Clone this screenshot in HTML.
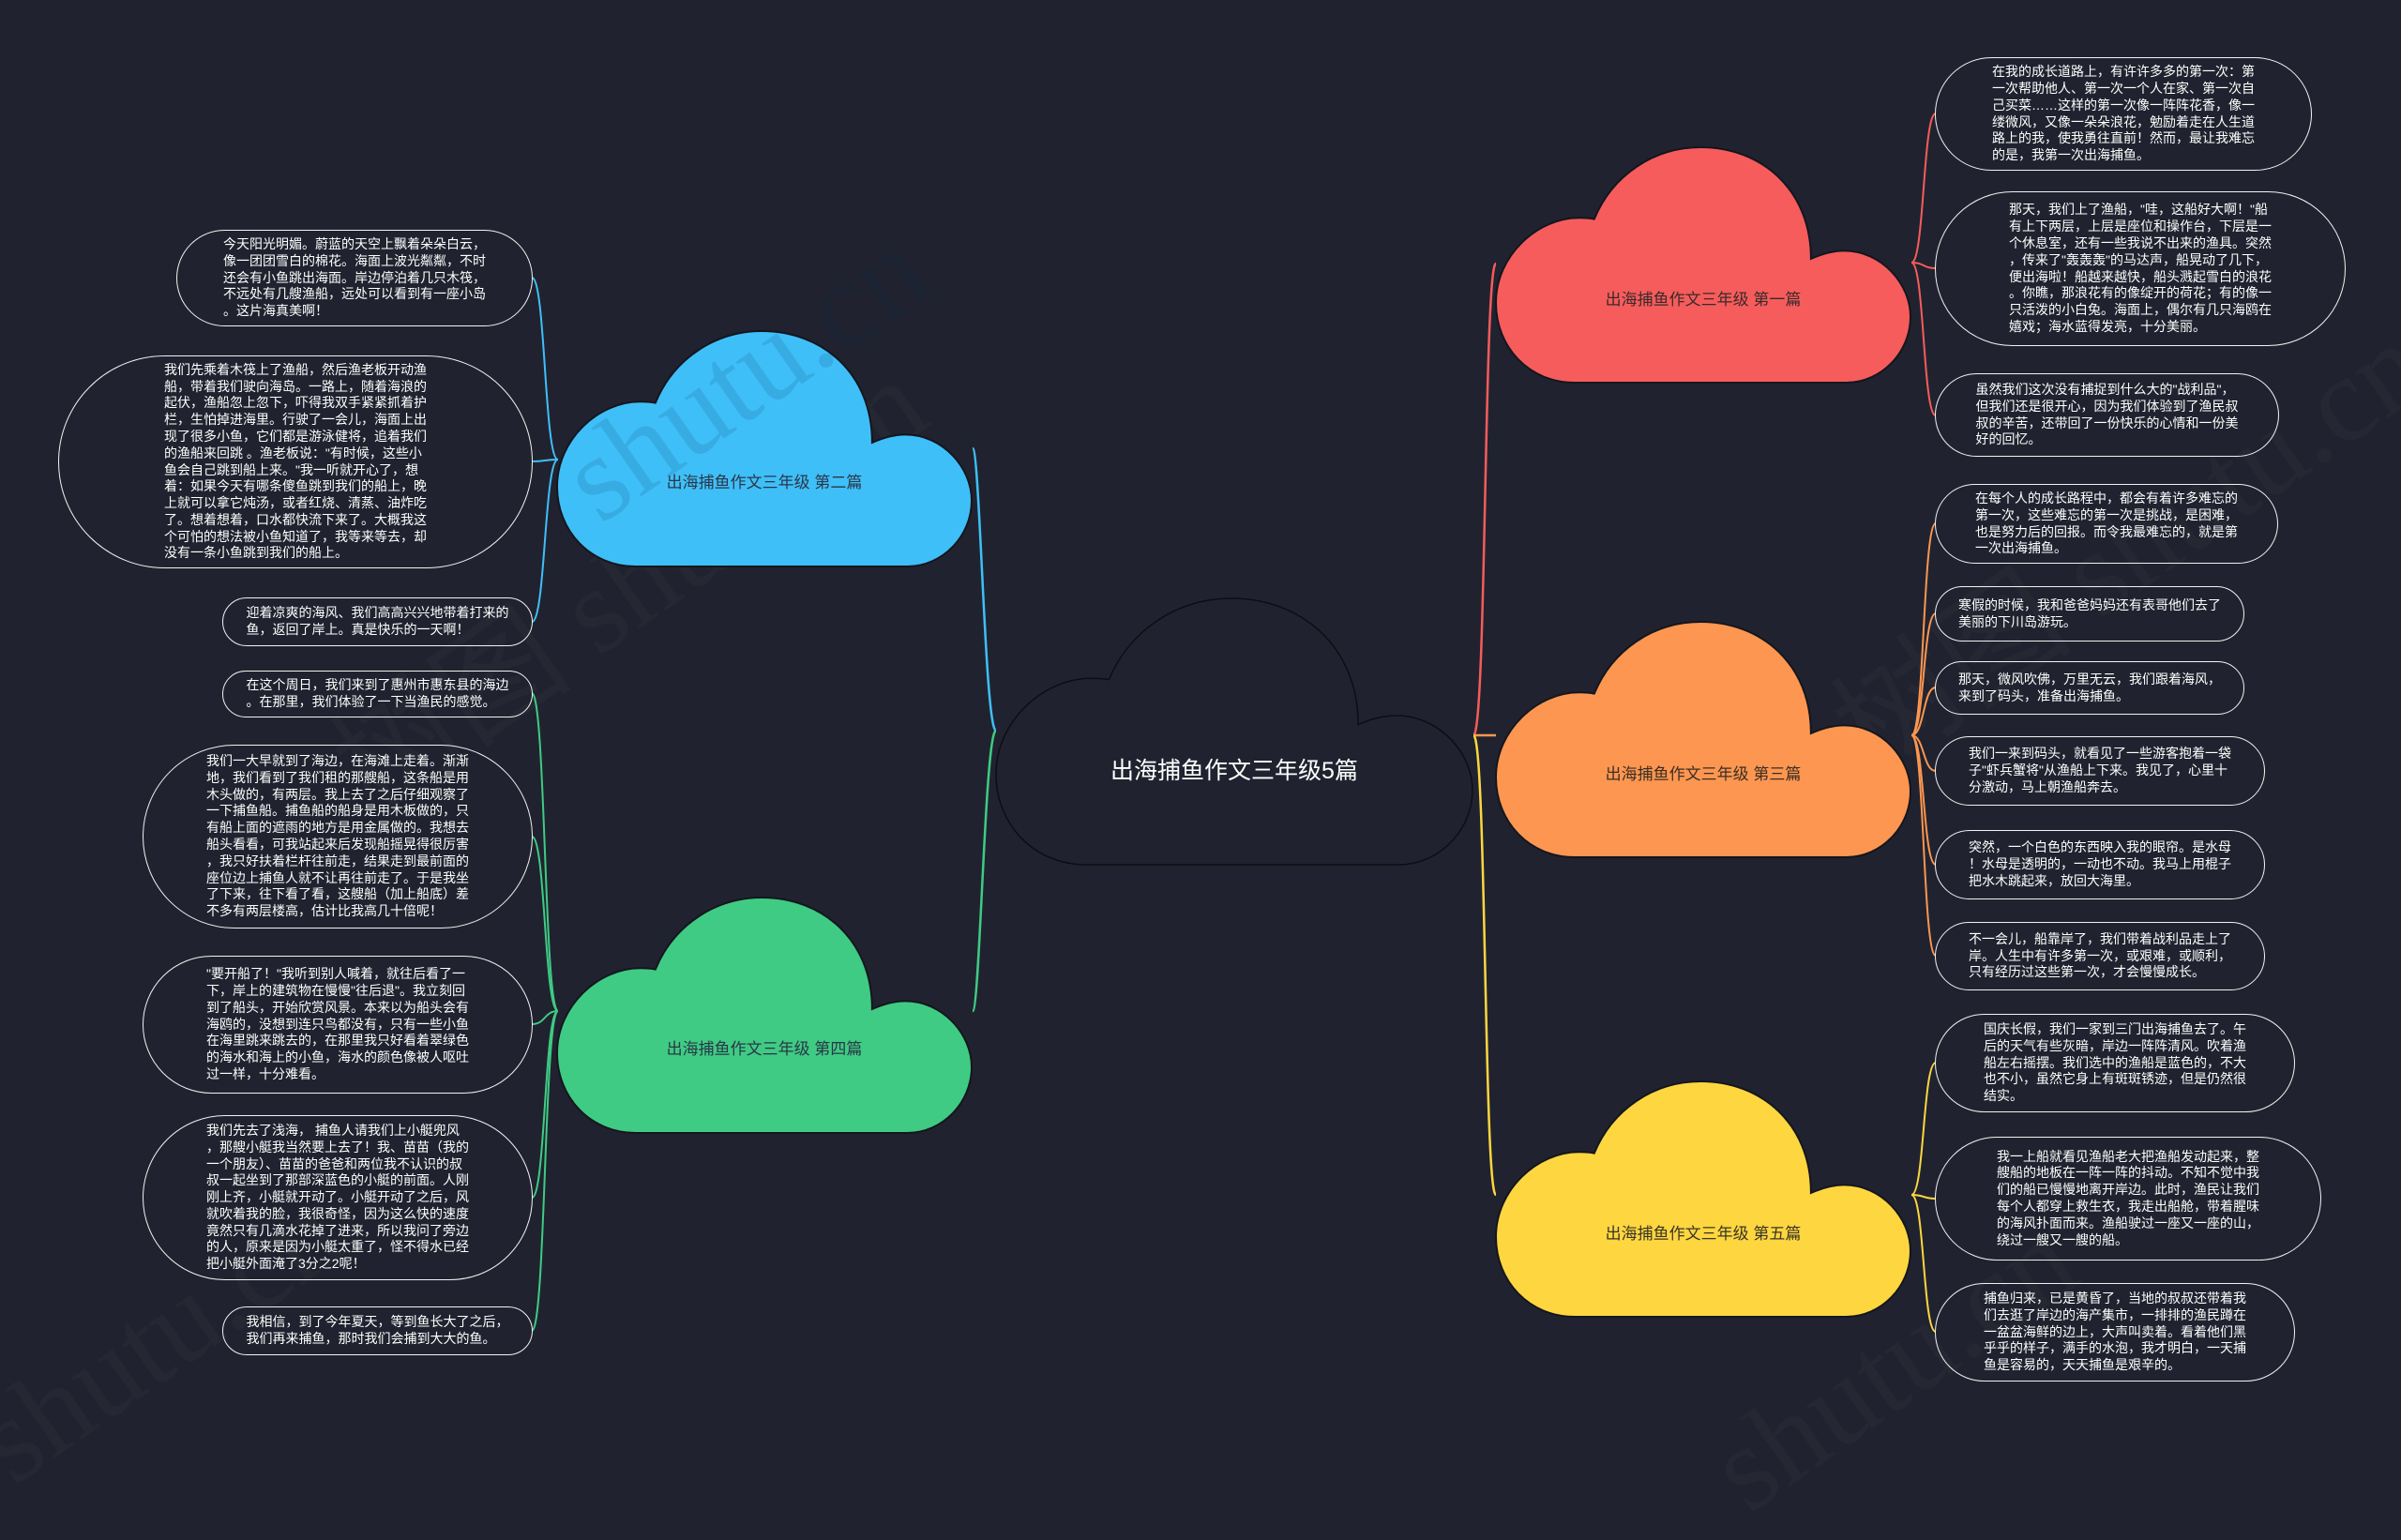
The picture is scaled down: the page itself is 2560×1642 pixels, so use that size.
<!DOCTYPE html>
<html><head><meta charset="utf-8">
<style>
html,body{margin:0;padding:0;background:#20232f;}
body{width:2560px;height:1532px;position:relative;overflow:hidden;font-family:"Liberation Sans","Noto Sans CJK SC",sans-serif;}
svg{position:absolute;left:0;top:0;}
.b{position:absolute;box-sizing:border-box;border:1.6px solid #f2f2f2;border-radius:999px;display:flex;align-items:center;justify-content:center;}
.b div{color:#fff;font-size:14px;line-height:17.8px;white-space:nowrap;text-align:left;}
.wm{position:absolute;font-family:"Liberation Serif",serif;font-size:130px;color:rgba(255,255,255,0.025);transform:rotate(-35deg);white-space:nowrap;}
</style></head><body>
<div class="wm" style="left:300px;top:520px;">树图 shutu.cn</div>
<div class="wm" style="left:1900px;top:480px;">树图 shutu.cn</div>
<div class="wm" style="left:-50px;top:1350px;">shutu.cn</div>
<div class="wm" style="left:1800px;top:1380px;">shutu.cn</div>
<svg width="2560" height="1532" viewBox="0 0 2560 1532">
<defs>
<path id="cs" d="M84 251 C35.4 251 0 213.4 0 165.7 C0 115.5 44.2 75.3 88.4 75.3 C95 75.3 101.7 75.8 104.8 76.6 C123.8 30.1 168 0 218.3 0 C282.9 0 335.9 45.2 335.9 119 C349.2 113 360.2 110.4 371.3 110.4 C411.1 110.4 442 145.6 442 180.7 C442 218.4 411.1 251 373.5 251 Z"/>
</defs>
<g fill="none" stroke-width="2.5">
<path d="M1062 779 C1050 779 1045 478 1037 478" stroke="#3fbff8"/>
<path d="M1062 779 C1050 779 1045 1078 1037 1078" stroke="#3fcb83"/>
<path d="M1571 784 C1585 784 1582 281 1595 281" stroke="#f65c5c"/>
<path d="M1571 784 C1585 784 1582 784 1595 784" stroke="#fd9650"/>
<path d="M1571 784 C1585 784 1582 1274 1595 1274" stroke="#fdd640"/>
</g>
<g fill="none" stroke-width="2" stroke="#f65c5c">
<path d="M2038 280 C2052 280 2050 121 2064 121"/>
<path d="M2038 280 C2052 280 2050 286 2064 286"/>
<path d="M2038 280 C2052 280 2050 443 2064 443"/>
</g>
<g fill="none" stroke-width="2" stroke="#fd9650">
<path d="M2038 784 C2052 784 2050 558 2064 558"/>
<path d="M2038 784 C2052 784 2050 654 2064 654"/>
<path d="M2038 784 C2052 784 2050 733 2064 733"/>
<path d="M2038 784 C2052 784 2050 822 2064 822"/>
<path d="M2038 784 C2052 784 2050 922 2064 922"/>
<path d="M2038 784 C2052 784 2050 1019 2064 1019"/>
</g>
<g fill="none" stroke-width="2" stroke="#fdd640">
<path d="M2038 1274 C2052 1274 2050 1133 2064 1133"/>
<path d="M2038 1274 C2052 1274 2050 1278 2064 1278"/>
<path d="M2038 1274 C2052 1274 2050 1420 2064 1420"/>
</g>
<g fill="none" stroke-width="2" stroke="#3fbff8">
<path d="M595 490 C580 490 582 296 567 296"/>
<path d="M595 490 C580 490 582 492 567 492"/>
<path d="M595 490 C580 490 582 663 567 663"/>
</g>
<g fill="none" stroke-width="2" stroke="#3fcb83">
<path d="M595 1078 C580 1078 582 739 567 739"/>
<path d="M595 1078 C580 1078 582 892 567 892"/>
<path d="M595 1078 C580 1078 582 1092 567 1092"/>
<path d="M595 1078 C580 1078 582 1277 567 1277"/>
<path d="M595 1078 C580 1078 582 1419 567 1419"/>
</g>
<path transform="translate(1062,638)" d="M96.5 284 C40.6 284 0 241.4 0 187.4 C0 130.6 50.8 85.2 101.6 85.2 C109.2 85.2 116.8 85.8 120.4 86.6 C142.2 34.1 193 0 251 0 C325.1 0 386.1 51.1 386.1 134.6 C401.3 127.8 414 125 426.7 125 C472.4 125 508 164.7 508 204.5 C508 247.1 472.4 284 429.3 284 Z" fill="#20232f" stroke="#0c0e14" stroke-width="1.5"/>
<use href="#cs" transform="translate(594,353)" fill="#3fbff8" stroke="#14161e" stroke-width="2"/>
<use href="#cs" transform="translate(594,957)" fill="#3fcb83" stroke="#14161e" stroke-width="2"/>
<use href="#cs" transform="translate(1595,157)" fill="#f65c5c" stroke="#14161e" stroke-width="2"/>
<use href="#cs" transform="translate(1595,663)" fill="#fd9650" stroke="#14161e" stroke-width="2"/>
<use href="#cs" transform="translate(1595,1153)" fill="#fdd640" stroke="#14161e" stroke-width="2"/>
<text x="640" y="560" font-family="Liberation Serif,serif" font-size="130" fill="rgba(0,40,80,0.12)" transform="rotate(-35 640 560)">shutu.cn</text>
<g font-family="Liberation Sans,Noto Sans CJK SC,sans-serif" text-anchor="middle">
<text x="1316" y="830" font-size="25" fill="#ffffff">出海捕鱼作文三年级5篇</text>
<text x="815" y="520" font-size="17" fill="#2a3748">出海捕鱼作文三年级 第二篇</text>
<text x="815" y="1124" font-size="17" fill="#2a3748">出海捕鱼作文三年级 第四篇</text>
<text x="1816" y="325" font-size="17" fill="#3a2a2a">出海捕鱼作文三年级 第一篇</text>
<text x="1816" y="831" font-size="17" fill="#3a2e25">出海捕鱼作文三年级 第三篇</text>
<text x="1816" y="1321" font-size="17" fill="#3a3525">出海捕鱼作文三年级 第五篇</text>
</g>
</svg>

<div class="b" style="left:2063px;top:61px;width:402px;height:121px;"><div>在我的成长道路上，有许许多多的第一次：第<br>一次帮助他人、第一次一个人在家、第一次自<br>己买菜……这样的第一次像一阵阵花香，像一<br>缕微风，又像一朵朵浪花，勉励着走在人生道<br>路上的我，使我勇往直前！然而，最让我难忘<br>的是，我第一次出海捕鱼。</div></div>
<div class="b" style="left:2063px;top:204px;width:438px;height:165px;"><div>那天，我们上了渔船，"哇，这船好大啊！"船<br>有上下两层，上层是座位和操作台，下层是一<br>个休息室，还有一些我说不出来的渔具。突然<br>，传来了"轰轰轰"的马达声，船晃动了几下，<br>便出海啦！船越来越快，船头溅起雪白的浪花<br>。你瞧，那浪花有的像绽开的荷花；有的像一<br>只活泼的小白兔。海面上，偶尔有几只海鸥在<br>嬉戏；海水蓝得发亮，十分美丽。</div></div>
<div class="b" style="left:2063px;top:398px;width:367px;height:89px;"><div>虽然我们这次没有捕捉到什么大的"战利品"，<br>但我们还是很开心，因为我们体验到了渔民叔<br>叔的辛苦，还带回了一份快乐的心情和一份美<br>好的回忆。</div></div>

<div class="b" style="left:2063px;top:516px;width:366px;height:85px;"><div>在每个人的成长路程中，都会有着许多难忘的<br>第一次，这些难忘的第一次是挑战，是困难，<br>也是努力后的回报。而令我最难忘的，就是第<br>一次出海捕鱼。</div></div>
<div class="b" style="left:2063px;top:625px;width:330px;height:59px;"><div>寒假的时候，我和爸爸妈妈还有表哥他们去了<br>美丽的下川岛游玩。</div></div>
<div class="b" style="left:2063px;top:705px;width:330px;height:57px;"><div>那天，微风吹佛，万里无云，我们跟着海风，<br>来到了码头，准备出海捕鱼。</div></div>
<div class="b" style="left:2063px;top:785px;width:352px;height:74px;"><div>我们一来到码头，就看见了一些游客抱着一袋<br>子"虾兵蟹将"从渔船上下来。我见了，心里十<br>分激动，马上朝渔船奔去。</div></div>
<div class="b" style="left:2063px;top:885px;width:352px;height:74px;"><div>突然，一个白色的东西映入我的眼帘。是水母<br>！水母是透明的，一动也不动。我马上用棍子<br>把水木跳起来，放回大海里。</div></div>
<div class="b" style="left:2063px;top:983px;width:352px;height:73px;"><div>不一会儿，船靠岸了，我们带着战利品走上了<br>岸。人生中有许多第一次，或艰难，或顺利，<br>只有经历过这些第一次，才会慢慢成长。</div></div>

<div class="b" style="left:2063px;top:1081px;width:384px;height:105px;"><div>国庆长假，我们一家到三门出海捕鱼去了。午<br>后的天气有些灰暗，岸边一阵阵清风。吹着渔<br>船左右摇摆。我们选中的渔船是蓝色的，不大<br>也不小，虽然它身上有斑斑锈迹，但是仍然很<br>结实。</div></div>
<div class="b" style="left:2063px;top:1212px;width:412px;height:132px;"><div>我一上船就看见渔船老大把渔船发动起来，整<br>艘船的地板在一阵一阵的抖动。不知不觉中我<br>们的船已慢慢地离开岸边。此时，渔民让我们<br>每个人都穿上救生衣，我走出船舱，带着腥味<br>的海风扑面而来。渔船驶过一座又一座的山，<br>绕过一艘又一艘的船。</div></div>
<div class="b" style="left:2063px;top:1368px;width:384px;height:105px;"><div>捕鱼归来，已是黄昏了，当地的叔叔还带着我<br>们去逛了岸边的海产集市，一排排的渔民蹲在<br>一盆盆海鲜的边上，大声叫卖着。看着他们黑<br>乎乎的样子，满手的水泡，我才明白，一天捕<br>鱼是容易的，天天捕鱼是艰辛的。</div></div>

<div class="b" style="left:188px;top:245px;width:380px;height:103px;"><div>今天阳光明媚。蔚蓝的天空上飘着朵朵白云，<br>像一团团雪白的棉花。海面上波光粼粼，不时<br>还会有小鱼跳出海面。岸边停泊着几只木筏，<br>不远处有几艘渔船，远处可以看到有一座小岛<br>。这片海真美啊！</div></div>
<div class="b" style="left:62px;top:379px;width:506px;height:227px;"><div>我们先乘着木筏上了渔船，然后渔老板开动渔<br>船，带着我们驶向海岛。一路上，随着海浪的<br>起伏，渔船忽上忽下，吓得我双手紧紧抓着护<br>栏，生怕掉进海里。行驶了一会儿，海面上出<br>现了很多小鱼，它们都是游泳健将，追着我们<br>的渔船来回跳 。渔老板说："有时候，这些小<br>鱼会自己跳到船上来。"我一听就开心了，想<br>着：如果今天有哪条傻鱼跳到我们的船上，晚<br>上就可以拿它炖汤，或者红烧、清蒸、油炸吃<br>了。想着想着，口水都快流下来了。大概我这<br>个可怕的想法被小鱼知道了，我等来等去，却<br>没有一条小鱼跳到我们的船上。</div></div>
<div class="b" style="left:237px;top:637px;width:331px;height:52px;"><div>迎着凉爽的海风、我们高高兴兴地带着打来的<br>鱼，返回了岸上。真是快乐的一天啊！</div></div>

<div class="b" style="left:237px;top:715px;width:331px;height:50px;"><div>在这个周日，我们来到了惠州市惠东县的海边<br>。在那里，我们体验了一下当渔民的感觉。</div></div>
<div class="b" style="left:152px;top:794px;width:416px;height:196px;"><div>我们一大早就到了海边，在海滩上走着。渐渐<br>地，我们看到了我们租的那艘船，这条船是用<br>木头做的，有两层。我上去了之后仔细观察了<br>一下捕鱼船。捕鱼船的船身是用木板做的，只<br>有船上面的遮雨的地方是用金属做的。我想去<br>船头看看，可我站起来后发现船摇晃得很厉害<br>，我只好扶着栏杆往前走，结果走到最前面的<br>座位边上捕鱼人就不让再往前走了。于是我坐<br>了下来，往下看了看，这艘船（加上船底）差<br>不多有两层楼高，估计比我高几十倍呢！</div></div>
<div class="b" style="left:152px;top:1019px;width:416px;height:147px;"><div>"要开船了！"我听到别人喊着，就往后看了一<br>下，岸上的建筑物在慢慢"往后退"。我立刻回<br>到了船头，开始欣赏风景。本来以为船头会有<br>海鸥的，没想到连只鸟都没有，只有一些小鱼<br>在海里跳来跳去的，在那里我只好看着翠绿色<br>的海水和海上的小鱼，海水的颜色像被人呕吐<br>过一样，十分难看。</div></div>
<div class="b" style="left:152px;top:1189px;width:416px;height:176px;"><div>我们先去了浅海， 捕鱼人请我们上小艇兜风<br>，那艘小艇我当然要上去了！我、苗苗（我的<br>一个朋友）、苗苗的爸爸和两位我不认识的叔<br>叔一起坐到了那部深蓝色的小艇的前面。人刚<br>刚上齐，小艇就开动了。小艇开动了之后，风<br>就吹着我的脸，我很奇怪，因为这么快的速度<br>竟然只有几滴水花掉了进来，所以我问了旁边<br>的人，原来是因为小艇太重了，怪不得水已经<br>把小艇外面淹了3分之2呢！</div></div>
<div class="b" style="left:237px;top:1393px;width:331px;height:52px;"><div>我相信，到了今年夏天，等到鱼长大了之后，<br>我们再来捕鱼，那时我们会捕到大大的鱼。</div></div>
</body></html>
